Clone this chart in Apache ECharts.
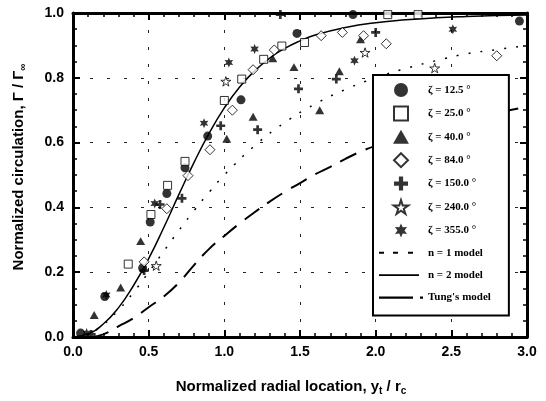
<!DOCTYPE html>
<html><head><meta charset="utf-8">
<script src="https://cdn.jsdelivr.net/npm/echarts@6/dist/echarts.min.js"></script>
<style>html,body{margin:0;padding:0;background:#fff}#c{width:546px;height:401px}</style>
</head><body><div id="c"></div>
<script>
// ---- data ----
const legendNames = ['ζ = 12.5 °','ζ = 25.0 °','ζ = 40.0 °','ζ = 84.0 °','ζ = 150.0 °','ζ = 240.0 °','ζ = 355.0 °','n = 1 model','n = 2 model',"Tung's model"];
const xTickLabels = ['0.0','0.5','1.0','1.5','2.0','2.5','3.0'];
const yTickLabels = ['0.0','0.2','0.4','0.6','0.8','1.0'];

const zeta12_5 = [[0.05,0.012],[0.21,0.125],[0.46,0.213],[0.51,0.355],[0.62,0.443],[0.74,0.522],[0.89,0.62],[1.11,0.732],[1.48,0.937],[1.85,0.995],[2.95,0.975]];
const zeta25 = [[0.365,0.225],[0.515,0.378],[0.625,0.468],[0.74,0.542],[1.0,0.73],[1.115,0.796],[1.26,0.857],[1.38,0.898],[1.53,0.909],[2.08,0.995],[2.28,0.995]];
const zeta40 = [[0.14,0.068],[0.315,0.153],[0.447,0.296],[1.016,0.612],[1.19,0.68],[1.32,0.86],[1.46,0.833],[1.63,0.70],[1.76,0.82],[1.90,0.919]];
const zeta84 = [[0.47,0.232],[0.62,0.396],[0.76,0.498],[0.905,0.578],[1.053,0.70],[1.19,0.825],[1.33,0.886],[1.64,0.93],[1.78,0.94],[1.92,0.93],[2.07,0.905],[2.80,0.868]];
const zeta150 = [[0.12,0.008],[0.47,0.205],[0.575,0.409],[0.72,0.428],[0.976,0.652],[1.22,0.64],[1.37,0.995],[1.49,0.766],[1.74,0.796],[2.0,0.94]];
const zeta240 = [[0.55,0.22],[1.01,0.789],[1.93,0.878],[2.39,0.83]];
const zeta355 = [[0.09,0.012],[0.22,0.13],[0.54,0.412],[0.866,0.66],[1.03,0.847],[1.2,0.889],[1.86,0.853],[2.51,0.95]];

const modelN1 = [[0,0],[0.1,0.01],[0.2,0.038],[0.3,0.083],[0.4,0.138],[0.5,0.2],[0.6,0.265],[0.7,0.329],[0.8,0.39],[0.9,0.447],[1.0,0.5],[1.2,0.59],[1.4,0.662],[1.6,0.719],[1.8,0.764],[2.0,0.8],[2.2,0.829],[2.4,0.853],[2.6,0.874],[2.8,0.887],[3.0,0.9]];
const modelN2 = [[0,0],[0.1,0.01],[0.2,0.04],[0.3,0.09],[0.4,0.159],[0.5,0.242],[0.6,0.338],[0.7,0.44],[0.8,0.539],[0.9,0.629],[1.0,0.707],[1.1,0.771],[1.2,0.821],[1.3,0.861],[1.4,0.891],[1.5,0.914],[1.6,0.932],[1.8,0.955],[2.0,0.97],[2.2,0.979],[2.4,0.985],[2.6,0.989],[2.8,0.992],[3.0,0.994]];
const modelTung = [[0.12,0],[0.2,0.008],[0.3,0.033],[0.4,0.058],[0.5,0.092],[0.6,0.125],[0.7,0.168],[0.8,0.222],[0.9,0.272],[1.0,0.312],[1.1,0.35],[1.2,0.385],[1.3,0.418],[1.4,0.448],[1.5,0.475],[1.6,0.502],[1.7,0.525],[1.8,0.55],[1.9,0.572],[2.0,0.59],[2.5,0.66],[3.0,0.71]];

// ---- symbols ----
const plusPath = 'path://M35,0 H65 V35 H100 V65 H65 V100 H35 V65 H0 V35 H35 Z';
const star5Path = 'path://M50,0 L61,35 L98,35 L68,57 L79,91 L50,70 L21,91 L32,57 L2,35 L39,35 Z';
const star6Path = 'path://M50,0 L62,28 L93,25 L75,50 L93,75 L62,72 L50,100 L38,72 L7,75 L25,50 L7,25 L38,28 Z';
const squarePath = 'path://M0,0 H100 V100 H0 Z';
const trianglePath = 'path://M50,0 L100,88 L0,88 Z';
const diamondPath = 'path://M50,0 L100,50 L50,100 L0,50 Z';
const boxPts = 'M0,0 L0.01,0 L0,0.01 Z M44,14 L43.99,14 L44,13.99 Z ';
const iconN1 = 'path://' + boxPts + 'M0,6 H5 V8 H0 Z M14,6 H19 V8 H14 Z M29,6 H34 V8 H29 Z';
const iconN2 = 'path://' + boxPts + 'M0,6 H40 V7.8 H0 Z';
const iconTung = 'path://' + boxPts + 'M0,6 H34 V8.2 H0 Z M41,6 H44 V8.2 H41 Z';

const chart = echarts.init(document.getElementById('c'), null, {renderer:'canvas'});
const black = '#000';
const filled = {color: black, borderColor: black, borderWidth: 0};
const open = {color: '#fff', borderColor: black, borderWidth: 1};

function scatter(name, data, symbol, size, style) {
  return {name, type:'scatter', data, symbol, symbolSize:size, symbolKeepAspect:true,
          itemStyle: style, z: 3, emphasis:{disabled:true}};
}
function line(name, data, type, width) {
  return {name, type:'line', data, symbol:'none', showSymbol:false, smooth:true, clip:true,
          lineStyle:{color:black, width, type}, itemStyle:{color:black}, z:2, emphasis:{disabled:true}};
}

const labelFont = {color:black, fontFamily:'Liberation Sans, Arial', fontWeight:'bold', fontSize:14};
const titleFont = {color:black, fontFamily:'Liberation Sans, Arial', fontWeight:'bold', fontSize:15};
function xAx(pos, show) {
  return {type:'value', min:0, max:3, interval:0.5, position:pos,
    axisLine:{show:true, onZero:false, lineStyle:{color:black, width:3}},
    axisTick:{show:true, inside:true, length:7, lineStyle:{color:black, width:2}},
    minorTick:{show:true, splitNumber:5, length:4, lineStyle:{color:black, width:1.5}},
    axisLabel:{show:show, margin:8, ...labelFont,
      formatter:(v)=>xTickLabels[Math.round(v/0.5)]},
    splitLine:{show:show, lineStyle:{color:'#222', width:1, type:[3,14]}},
    name: show ? 'Normalized radial location, y{s|t} / r{s|c}' : '',
    nameLocation:'middle', nameGap:41,
    nameTextStyle:{...titleFont, padding:[0,18,0,0], rich:{s:{...titleFont, fontSize:10, padding:[8,0,0,0]}}}
  };
}
function yAx(pos, show) {
  return {type:'value', min:0, max:1, interval:0.2, position:pos,
    axisLine:{show:true, onZero:false, lineStyle:{color:black, width:3}},
    axisTick:{show:true, inside:true, length:7, lineStyle:{color:black, width:2}},
    minorTick:{show:true, splitNumber:4, length:4, lineStyle:{color:black, width:1.5}},
    axisLabel:{show:show, margin:9, ...labelFont,
      formatter:(v)=>yTickLabels[Math.round(v/0.2)]},
    splitLine:{show:show, lineStyle:{color:'#222', width:1, type:[3,14]}},
    name: show ? 'Normalized circulation, Γ / Γ{s|∞}' : '',
    nameLocation:'middle', nameGap:45,
    nameTextStyle:{...titleFont, padding:[0,0,0,16], rich:{s:{...titleFont, fontSize:10, padding:[8,0,0,0]}}}
  };
}

const lineIconStyle = {color:black, borderWidth:0};
const option = {
  backgroundColor:'#fff',
  animation:false,
  grid:{left:73, right:19, top:13, bottom:63, containLabel:false},
  xAxis:[xAx('bottom', true), xAx('top', false)],
  yAxis:[yAx('left', true), yAx('right', false)],
  legend:{
    orient:'vertical', left:373, top:75,
    data: legendNames.slice(0,7).map(n=>({name:n})).concat([
      {name:legendNames[7], icon:iconN1, itemStyle:lineIconStyle},
      {name:legendNames[8], icon:iconN2, itemStyle:lineIconStyle},
      {name:legendNames[9], icon:iconTung, itemStyle:lineIconStyle}
    ]),
    itemWidth:44, itemHeight:14, itemGap:8.4,
    padding:[8,18,11,6],
    backgroundColor:'#fff', borderColor:black, borderWidth:2, borderRadius:0,
    textStyle:{color:black, fontFamily:'Liberation Serif, Times New Roman, serif', fontWeight:'bold', fontSize:11},
    selectedMode:false, z:10
  },
  series:[
    scatter(legendNames[0], zeta12_5, 'circle', 9, filled),
    scatter(legendNames[1], zeta25, squarePath, 8, open),
    scatter(legendNames[2], zeta40, trianglePath, 9, filled),
    scatter(legendNames[3], zeta84, diamondPath, 10, open),
    scatter(legendNames[4], zeta150, plusPath, 9, filled),
    scatter(legendNames[5], zeta240, star5Path, 10, open),
    scatter(legendNames[6], zeta355, star6Path, 10, filled),
    line(legendNames[7], modelN1, [2,10], 1.5),
    line(legendNames[8], modelN2, 'solid', 1.5),
    line(legendNames[9], modelTung, [18,10], 2)
  ]
};
chart.setOption(option);
</script>
</body></html>
